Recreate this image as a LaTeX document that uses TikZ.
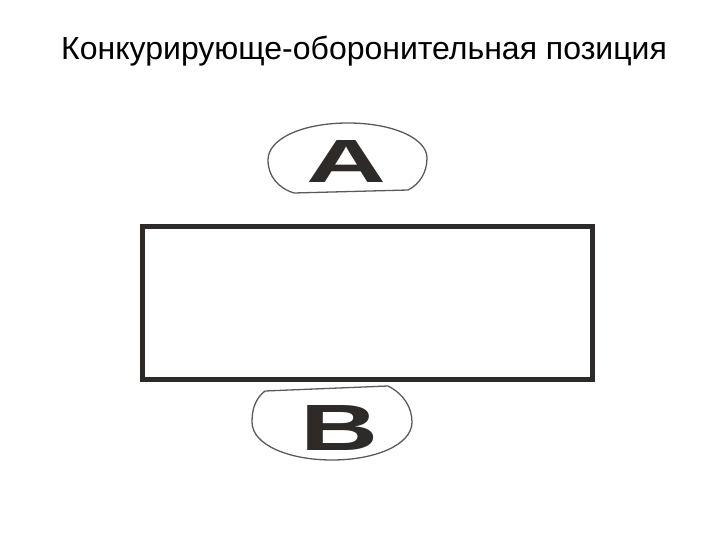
\documentclass[tikz,border=0pt]{standalone}
\usepackage{fontspec}
\setmainfont{Liberation Sans}
\definecolor{ink}{HTML}{2E2A28}
\definecolor{oval}{HTML}{5A5A5A}
\tikzset{
  frame/.style={draw=ink,line width=5pt,outer sep=0pt},
  ovalline/.style={draw=oval,line width=1.3pt,line join=round},
  letter/.style={inner sep=0pt,text=ink}
}
\begin{document}
\begin{tikzpicture}[x=1pt,y=-1pt]
\useasboundingbox (0,0) rectangle (720,540);
\node[anchor=base west,inner sep=0pt,font=\fontsize{32}{38}\selectfont] (title) at (61,60) {Конкурирующе-оборонительная позиция};
\node[frame,minimum width=450pt,minimum height=153pt,anchor=north west,inner sep=0pt] (box) at (142.5,226.5) {};
% oval A
\draw[ovalline] (294,193) -- (408,190) .. controls (420,184) and (427,172) .. (427,158)
  .. controls (427,138) and (392,123) .. (348,123)
  .. controls (304,123) and (268,138) .. (268,160)
  .. controls (268,176) and (278,188) .. (294,193);
\node[letter,font=\bfseries] (A) at (347,161) {\resizebox{80pt}{42pt}{A}};
% oval B
\draw[ovalline] (265,391) -- (388,386) .. controls (404,394) and (412,408) .. (412,422)
  .. controls (412,445) and (375,460) .. (332,460)
  .. controls (289,460) and (252,445) .. (252,422)
  .. controls (252,408) and (256,398) .. (265,391);
\node[letter,font=\bfseries] (B) at (340,427.5) {\resizebox{78pt}{45pt}{B}};
\end{tikzpicture}
\end{document}
